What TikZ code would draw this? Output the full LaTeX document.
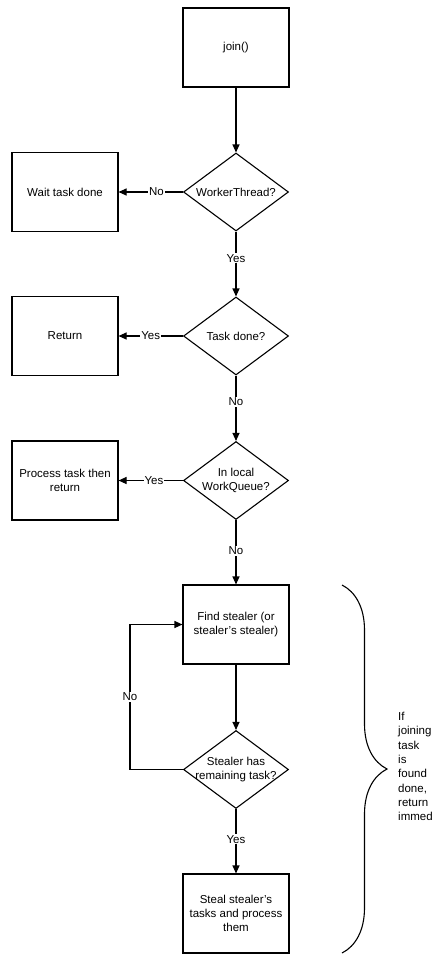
\documentclass[tikz,border=0pt]{standalone}
\usepackage{fontspec}
\setmainfont{Liberation Sans}
\usetikzlibrary{shapes.geometric,arrows.meta,decorations.pathreplacing}
\begin{document}
\begin{tikzpicture}[x=1pt,y=-1pt,
  font=\fontsize{11.5}{14}\selectfont,
  box/.style={draw,line width=1.1pt,minimum width=106pt,minimum height=79pt,align=center,inner sep=2pt},
  dia/.style={draw,diamond,line width=1.1pt,minimum width=105pt,minimum height=78pt,inner sep=0pt},
  arr/.style={-{Triangle[length=8pt,width=7pt]},line width=1.1pt},
  lab/.style={fill=white,inner sep=1pt}]
\useasboundingbox (0,0) rectangle (443,962);
\clip (0,0) rectangle (443,962);
\node[box] (join) at (236,47.5) {join()};
\node[dia,label={[align=center]center:WorkerThread?}] (wt) at (236,192) {};
\node[box] (wait) at (65,192) {Wait task done};
\node[dia,label={[align=center]center:Task done?}] (td) at (236,336) {};
\node[box] (ret) at (65,336) {Return};
\node[dia,label={[align=center]center:In local\\WorkQueue?}] (lq) at (236,480.5) {};
\node[box] (proc) at (65,480.5) {Process task then\\return};
\node[box] (find) at (236,624.5) {Find stealer (or\\stealer's stealer)};
\node[dia,label={[align=center]center:Stealer has\\remaining task?}] (sh) at (236,769.5) {};
\node[box] (steal) at (236,913.5) {Steal stealer's\\tasks and process\\them};
\coordinate (lp) at (130,769.5);
\draw[arr] (join) -- (wt);
\draw[arr] (wt) -- node[lab,pos=0.41]{No} (wait);
\draw[arr] (wt) -- node[lab,pos=0.41]{Yes} (td);
\draw[arr] (td) -- node[lab,pos=0.5]{Yes} (ret);
\draw[arr] (td) -- node[lab,pos=0.4]{No} (lq);
\draw[arr] (lq) -- node[lab,pos=0.45]{Yes} (proc);
\draw[arr] (lq) -- node[lab,pos=0.48]{No} (find);
\draw[arr] (find) -- (sh);
\draw[arr] (sh.west) -- (lp) |- node[lab,pos=0.25]{No} (find.west);
\draw[arr] (sh) -- node[lab,pos=0.47]{Yes} (steal);
\draw[line width=1.1pt,decorate,decoration={brace,amplitude=45pt}] (342,585) -- (342,953);
\begin{scope}
\clip (390,700) rectangle (431,830);
\node[anchor=north west,align=left,inner sep=0pt,font=\fontsize{11.5}{14.3}\selectfont] (note) at (398,712) {If\\joining\\task\\is\\found\\done,\\return\\immediately};
\end{scope}
\end{tikzpicture}
\end{document}
